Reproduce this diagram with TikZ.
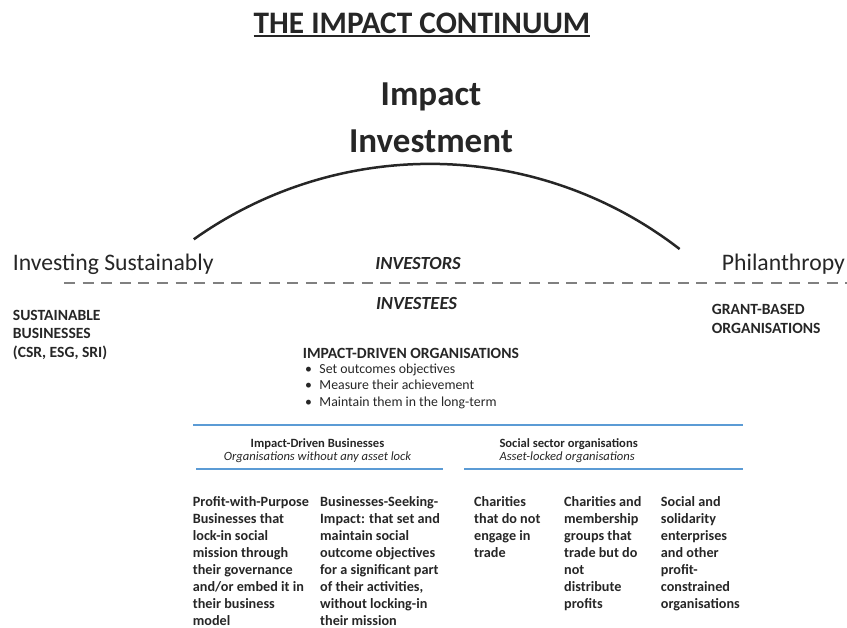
\documentclass[tikz,border=0pt]{standalone}
\usepackage{fontspec}
\setmainfont{Carlito}
\usetikzlibrary{calc}
\definecolor{inkdark}{RGB}{38,38,38}
\definecolor{lineblue}{RGB}{91,155,213}
\definecolor{dashgray}{RGB}{128,128,128}
\tikzset{
  txt/.style={inner sep=0pt,anchor=base west,text=inkdark,align=left},
  ctxt/.style={txt,anchor=base,align=center},
  bluerule/.style={draw=lineblue,line width=2pt},
  colbox/.style={txt,font=\fontsize{14.2pt}{16.9pt}\selectfont\bfseries},
  subhead/.style={txt,font=\fontsize{12.6pt}{13.4pt}\selectfont},
  caphead/.style={txt,font=\fontsize{15.6pt}{18.3pt}\selectfont\bfseries},
}

\begin{document}
\begin{tikzpicture}[x=1pt,y=-1pt]
%
% multi-line nodes sit on the baseline of their last line
\def\colTop{506.8}
\def\lh{16.9}
\def\R{408pt}
%
\useasboundingbox (0,0) rectangle (847,628);
%
\node[ctxt,font=\fontsize{31.3pt}{36pt}\selectfont\bfseries] (title) at (422,33.3) {THE IMPACT CONTINUUM};
\draw[inkdark,line width=1.8pt] ($(title.base west)+(0,3)$) -- ($(title.base east)+(0,3)$);
%
\node[ctxt,font=\fontsize{35pt}{47pt}\selectfont\bfseries] (impinv) at (431,153) {Impact\\Investment};
%
\coordinate (arcL) at (193.8,239.3);
\draw[inkdark,line width=2.5pt] (arcL) arc[start angle=125.4,end angle=52.3,radius=\R];
%
\node[txt,font=\fontsize{23.7pt}{28pt}\selectfont] (sustain) at (12.7,271) {Investing Sustainably};
\node[txt,font=\fontsize{23.7pt}{28pt}\selectfont] (phil) at (721.7,270.7) {Philanthropy};
%
\coordinate (dashL) at (64,283);
\coordinate (dashR) at (847,283);
\draw[dashgray,line width=2pt,dash pattern=on 11pt off 7.6pt] (dashL) -- (dashR);
%
\node[ctxt,font=\fontsize{18.5pt}{22pt}\selectfont\bfseries\itshape] (investors) at (418,270) {INVESTORS};
\node[ctxt,font=\fontsize{18.5pt}{22pt}\selectfont\bfseries\itshape] (investees) at (416.5,310) {INVESTEES};
%
\node[caphead] (susbiz) at (12.7,357.3) {SUSTAINABLE\\BUSINESSES\\(CSR, ESG, SRI)};
\node[caphead,font=\fontsize{15.6pt}{19pt}\selectfont\bfseries] (grant) at (711.7,334) {GRANT-BASED\\ORGANISATIONS};
%
\node[caphead] (idorg) at (302.7,358.3) {IMPACT-DRIVEN ORGANISATIONS};
\node[txt,font=\fontsize{13.8pt}{16.7pt}\selectfont] (goals) at (305,406.7)
  {\makebox[14.3pt][l]{\textbullet}Set outcomes objectives\\
   \makebox[14.3pt][l]{\textbullet}Measure their achievement\\
   \makebox[14.3pt][l]{\textbullet}Maintain them in the long-term};
%
\coordinate (topL) at (193,425);
\coordinate (topR) at (742.7,425);
\coordinate (botAL) at (196,469.3);
\coordinate (botAR) at (443.3,469.3);
\coordinate (botBL) at (464,469.3);
\coordinate (botBR) at (742.7,469.3);
\draw[bluerule] (topL) -- (topR);
\draw[bluerule] (botAL) -- (botAR);
\draw[bluerule] (botBL) -- (botBR);
%
\node[subhead,anchor=base,align=center] (idbiz) at (317.5,460.7) {\bfseries Impact-Driven Businesses\\\itshape Organisations without any asset lock};
\node[subhead] (social) at (499.3,460.7) {\bfseries Social sector organisations\\\itshape Asset-locked organisations};
%
\node[colbox] (colA) at (192.7,{\colTop+7*\lh}) {Profit-with-Purpose\\Businesses that\\lock-in social\\mission through\\their governance\\and/or embed it in\\their business\\model};
\node[colbox] (colB) at (320,{\colTop+7*\lh}) {Businesses-Seeking-\\Impact: that set and\\maintain social\\outcome objectives\\for a significant part\\of their activities,\\without locking-in\\their mission};
\node[colbox] (colC) at (474,{\colTop+3*\lh}) {Charities\\that do not\\engage in\\trade};
\node[colbox] (colD) at (564,{\colTop+6*\lh}) {Charities and\\membership\\groups that\\trade but do\\not\\distribute\\profits};
\node[colbox] (colE) at (660.7,{\colTop+6*\lh}) {Social and\\solidarity\\enterprises\\and other\\profit-\\constrained\\organisations};
%
\end{tikzpicture}
\end{document}
